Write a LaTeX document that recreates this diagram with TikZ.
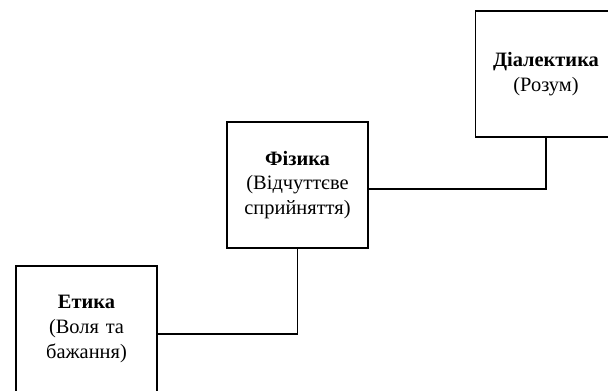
\documentclass[tikz,border=0pt]{standalone}
\usepackage{fontspec}
\setmainfont{Liberation Serif}

\tikzset{
  stage/.style={draw, line width=1.5bp, minimum width=141bp, minimum height=126bp,
    text width=136bp, align=center, inner sep=0pt,
    font=\fontsize{20.5}{25}\selectfont},
  link/.style={draw, line width=1.5bp}
}

\begin{document}
\begin{tikzpicture}[x=1bp, y=-1bp]
  \useasboundingbox (0,0) rectangle (608,390);
  \node[stage] (etyka) at (86.5, 329) {\textbf{Етика}\\(Воля та\\бажання)};
  \node[stage] (fizyka) at (297.5, 185) {\textbf{Фізика}\\(Відчуттєве\\сприйняття)};
  \node[stage] (dialektyka) at (546, 74) {\textbf{Діалектика}\\(Розум)};
  \draw[link] ([yshift=-5bp]etyka.east) -| (fizyka.south);
  \draw[link] ([yshift=-4bp]fizyka.east) -| (dialektyka.south);
\end{tikzpicture}
\end{document}
